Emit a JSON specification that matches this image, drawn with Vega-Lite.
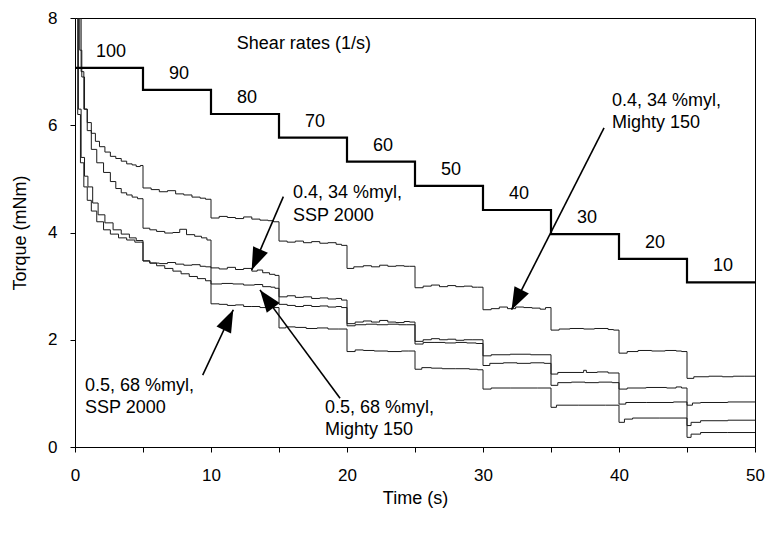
{
  "$schema": "https://vega.github.io/schema/vega-lite/v6.json",
  "width": 680,
  "height": 429,
  "autosize": "none",
  "padding": {"left": 75, "top": 18, "right": 13, "bottom": 89},
  "background": "white",
  "config": {
    "view": {"stroke": "black", "strokeWidth": 1},
    "font": "Liberation Sans",
    "axis": {"grid": false, "domainColor": "black", "tickColor": "black", "labelColor": "black", "titleColor": "black", "labelFont": "Liberation Sans", "titleFont": "Liberation Sans", "labelFontSize": 17, "titleFontSize": 18, "titleFontWeight": "normal", "tickSize": 5}
  },
  "datasets": {
    "curves": [
      {"s":"A","t":0,"v":9.5},{"s":"A","t":0.2,"v":8.1},{"s":"A","t":0.35,"v":7.4},{"s":"A","t":0.5,"v":6.9},{"s":"A","t":0.7,"v":6.3},{"s":"A","t":0.9,"v":6.05},{"s":"A","t":1.2,"v":5.85},{"s":"A","t":1.5,"v":5.7},{"s":"A","t":1.8,"v":5.6},{"s":"A","t":2.2,"v":5.5},{"s":"A","t":2.6,"v":5.42},{"s":"A","t":3.0,"v":5.38},{"s":"A","t":3.4,"v":5.33},{"s":"A","t":3.8,"v":5.28},{"s":"A","t":4.2,"v":5.26},{"s":"A","t":4.5,"v":5.23},{"s":"A","t":4.8,"v":5.25},
      {"s":"A","t":5,"v":4.83},{"s":"A","t":5.6,"v":4.8},{"s":"A","t":6.2,"v":4.76},{"s":"A","t":6.8,"v":4.78},{"s":"A","t":7.4,"v":4.72},{"s":"A","t":8.0,"v":4.7},{"s":"A","t":8.6,"v":4.66},{"s":"A","t":9.2,"v":4.64},{"s":"A","t":9.6,"v":4.62},
      {"s":"A","t":10,"v":4.27},{"s":"A","t":10.6,"v":4.3},{"s":"A","t":11.2,"v":4.28},{"s":"A","t":11.8,"v":4.26},{"s":"A","t":12.4,"v":4.29},{"s":"A","t":13.0,"v":4.25},{"s":"A","t":13.6,"v":4.23},{"s":"A","t":14.2,"v":4.22},{"s":"A","t":14.6,"v":4.2},
      {"s":"A","t":15,"v":3.84},{"s":"A","t":15.6,"v":3.82},{"s":"A","t":16.2,"v":3.84},{"s":"A","t":16.8,"v":3.81},{"s":"A","t":17.4,"v":3.83},{"s":"A","t":18.0,"v":3.8},{"s":"A","t":18.6,"v":3.81},{"s":"A","t":19.2,"v":3.78},{"s":"A","t":19.6,"v":3.76},
      {"s":"A","t":20,"v":3.33},{"s":"A","t":20.5,"v":3.36},{"s":"A","t":21.2,"v":3.38},{"s":"A","t":21.8,"v":3.36},{"s":"A","t":22.4,"v":3.39},{"s":"A","t":23.0,"v":3.37},{"s":"A","t":23.6,"v":3.38},{"s":"A","t":24.2,"v":3.37},{"s":"A","t":24.6,"v":3.37},
      {"s":"A","t":25,"v":2.97},{"s":"A","t":25.6,"v":3.0},{"s":"A","t":26.2,"v":3.02},{"s":"A","t":26.8,"v":2.99},{"s":"A","t":27.4,"v":3.01},{"s":"A","t":28.0,"v":2.99},{"s":"A","t":28.6,"v":3.0},{"s":"A","t":29.2,"v":2.98},{"s":"A","t":29.6,"v":2.98},
      {"s":"A","t":30,"v":2.56},{"s":"A","t":30.6,"v":2.58},{"s":"A","t":31.2,"v":2.61},{"s":"A","t":31.8,"v":2.58},{"s":"A","t":32.4,"v":2.61},{"s":"A","t":33.0,"v":2.6},{"s":"A","t":33.6,"v":2.59},{"s":"A","t":34.2,"v":2.57},{"s":"A","t":34.6,"v":2.6},
      {"s":"A","t":35,"v":2.18},{"s":"A","t":35.6,"v":2.2},{"s":"A","t":36.4,"v":2.21},{"s":"A","t":37.4,"v":2.2},{"s":"A","t":38.2,"v":2.21},{"s":"A","t":39.2,"v":2.19},{"s":"A","t":39.6,"v":2.18},
      {"s":"A","t":40,"v":1.75},{"s":"A","t":40.6,"v":1.78},{"s":"A","t":41.4,"v":1.8},{"s":"A","t":42.4,"v":1.79},{"s":"A","t":43.4,"v":1.8},{"s":"A","t":44.2,"v":1.79},{"s":"A","t":44.6,"v":1.78},
      {"s":"A","t":45,"v":1.28},{"s":"A","t":45.5,"v":1.31},{"s":"A","t":46.6,"v":1.32},{"s":"A","t":47.6,"v":1.31},{"s":"A","t":48.4,"v":1.32},{"s":"A","t":49.2,"v":1.32},{"s":"A","t":50,"v":1.32},

      {"s":"B","t":0,"v":9.5},{"s":"B","t":0.25,"v":8.0},{"s":"B","t":0.45,"v":7.0},{"s":"B","t":0.65,"v":6.3},{"s":"B","t":0.9,"v":5.9},{"s":"B","t":1.2,"v":5.55},{"s":"B","t":1.6,"v":5.3},{"s":"B","t":2.1,"v":5.12},{"s":"B","t":2.6,"v":4.95},{"s":"B","t":3.0,"v":4.82},{"s":"B","t":3.4,"v":4.74},{"s":"B","t":3.8,"v":4.7},{"s":"B","t":4.2,"v":4.66},{"s":"B","t":4.6,"v":4.63},
      {"s":"B","t":5,"v":4.08},{"s":"B","t":5.5,"v":4.05},{"s":"B","t":6.0,"v":4.02},{"s":"B","t":6.6,"v":3.99},{"s":"B","t":7.2,"v":4.0},{"s":"B","t":7.7,"v":4.06},{"s":"B","t":8.2,"v":3.96},{"s":"B","t":8.8,"v":3.93},{"s":"B","t":9.3,"v":3.9},{"s":"B","t":9.7,"v":3.86},
      {"s":"B","t":10,"v":3.34},{"s":"B","t":10.6,"v":3.32},{"s":"B","t":11.2,"v":3.35},{"s":"B","t":11.8,"v":3.31},{"s":"B","t":12.4,"v":3.33},{"s":"B","t":13.0,"v":3.28},{"s":"B","t":13.4,"v":3.3},{"s":"B","t":13.8,"v":3.25},{"s":"B","t":14.3,"v":3.22},{"s":"B","t":14.7,"v":3.2},
      {"s":"B","t":15,"v":2.8},{"s":"B","t":15.6,"v":2.82},{"s":"B","t":16.2,"v":2.79},{"s":"B","t":16.8,"v":2.8},{"s":"B","t":17.4,"v":2.77},{"s":"B","t":18.0,"v":2.78},{"s":"B","t":18.6,"v":2.76},{"s":"B","t":19.2,"v":2.77},{"s":"B","t":19.6,"v":2.74},
      {"s":"B","t":20,"v":2.3},{"s":"B","t":20.6,"v":2.33},{"s":"B","t":21.2,"v":2.35},{"s":"B","t":21.8,"v":2.33},{"s":"B","t":22.4,"v":2.36},{"s":"B","t":23.0,"v":2.33},{"s":"B","t":23.6,"v":2.32},{"s":"B","t":24.2,"v":2.34},{"s":"B","t":24.6,"v":2.33},
      {"s":"B","t":25,"v":1.97},{"s":"B","t":25.6,"v":2.0},{"s":"B","t":26.2,"v":2.02},{"s":"B","t":26.8,"v":2.0},{"s":"B","t":27.4,"v":2.01},{"s":"B","t":28.0,"v":1.99},{"s":"B","t":28.6,"v":2.0},{"s":"B","t":29.2,"v":2.0},
      {"s":"B","t":30,"v":1.7},{"s":"B","t":30.6,"v":1.72},{"s":"B","t":32.0,"v":1.73},{"s":"B","t":33.5,"v":1.72},
      {"s":"B","t":35,"v":1.36},{"s":"B","t":35.5,"v":1.39},{"s":"B","t":37.4,"v":1.43},{"s":"B","t":37.6,"v":1.39},{"s":"B","t":38.4,"v":1.4},{"s":"B","t":39.2,"v":1.38},
      {"s":"B","t":40,"v":1.08},{"s":"B","t":40.6,"v":1.1},{"s":"B","t":42.0,"v":1.11},{"s":"B","t":43.5,"v":1.1},{"s":"B","t":44.2,"v":1.12},{"s":"B","t":44.6,"v":1.1},
      {"s":"B","t":45,"v":0.78},{"s":"B","t":45.4,"v":0.82},{"s":"B","t":46.0,"v":0.83},{"s":"B","t":48.0,"v":0.84},{"s":"B","t":50,"v":0.84},

      {"s":"C","t":0,"v":9.5},{"s":"C","t":0.1,"v":8.2},{"s":"C","t":0.25,"v":6.3},{"s":"C","t":0.45,"v":5.4},{"s":"C","t":0.7,"v":5.05},{"s":"C","t":0.95,"v":4.85},{"s":"C","t":1.3,"v":4.55},{"s":"C","t":1.7,"v":4.33},{"s":"C","t":2.2,"v":4.18},{"s":"C","t":2.8,"v":4.05},{"s":"C","t":3.4,"v":3.97},{"s":"C","t":4.0,"v":3.9},{"s":"C","t":4.5,"v":3.85},
      {"s":"C","t":5,"v":3.47},{"s":"C","t":5.5,"v":3.43},{"s":"C","t":6.0,"v":3.38},{"s":"C","t":6.6,"v":3.33},{"s":"C","t":7.2,"v":3.28},{"s":"C","t":7.8,"v":3.23},{"s":"C","t":8.4,"v":3.18},{"s":"C","t":9.0,"v":3.14},{"s":"C","t":9.6,"v":3.1},
      {"s":"C","t":10,"v":3.04},{"s":"C","t":10.8,"v":3.05},{"s":"C","t":11.6,"v":3.04},{"s":"C","t":12.4,"v":3.02},{"s":"C","t":13.2,"v":3.03},{"s":"C","t":13.8,"v":2.99},{"s":"C","t":14.4,"v":2.98},{"s":"C","t":14.7,"v":2.96},
      {"s":"C","t":15,"v":2.66},{"s":"C","t":15.6,"v":2.64},{"s":"C","t":16.2,"v":2.62},{"s":"C","t":16.8,"v":2.64},{"s":"C","t":17.4,"v":2.62},{"s":"C","t":18.0,"v":2.63},{"s":"C","t":18.6,"v":2.61},{"s":"C","t":19.2,"v":2.62},{"s":"C","t":19.6,"v":2.6},
      {"s":"C","t":20,"v":2.26},{"s":"C","t":20.6,"v":2.28},{"s":"C","t":21.4,"v":2.29},{"s":"C","t":22.2,"v":2.28},{"s":"C","t":23.0,"v":2.29},{"s":"C","t":23.8,"v":2.28},{"s":"C","t":24.4,"v":2.28},
      {"s":"C","t":25,"v":1.92},{"s":"C","t":25.6,"v":1.95},{"s":"C","t":26.4,"v":1.95},{"s":"C","t":27.2,"v":1.94},{"s":"C","t":28.0,"v":1.95},{"s":"C","t":28.8,"v":1.94},{"s":"C","t":29.5,"v":1.93},
      {"s":"C","t":30,"v":1.52},{"s":"C","t":30.5,"v":1.56},{"s":"C","t":31.5,"v":1.57},{"s":"C","t":32.5,"v":1.56},{"s":"C","t":33.5,"v":1.57},{"s":"C","t":34.5,"v":1.56},
      {"s":"C","t":35,"v":1.15},{"s":"C","t":35.5,"v":1.2},{"s":"C","t":36.5,"v":1.21},{"s":"C","t":37.5,"v":1.2},{"s":"C","t":38.5,"v":1.21},{"s":"C","t":39.5,"v":1.2},
      {"s":"C","t":40,"v":0.8},{"s":"C","t":40.5,"v":0.83},{"s":"C","t":42.0,"v":0.83},{"s":"C","t":44.0,"v":0.84},
      {"s":"C","t":45,"v":0.4},{"s":"C","t":45.3,"v":0.46},{"s":"C","t":46.0,"v":0.49},{"s":"C","t":48.0,"v":0.5},{"s":"C","t":50,"v":0.5},

      {"s":"D","t":0,"v":9.5},{"s":"D","t":0.08,"v":8.2},{"s":"D","t":0.2,"v":6.2},{"s":"D","t":0.4,"v":5.3},{"s":"D","t":0.65,"v":4.85},{"s":"D","t":0.9,"v":4.6},{"s":"D","t":1.2,"v":4.4},{"s":"D","t":1.6,"v":4.2},{"s":"D","t":2.1,"v":4.05},{"s":"D","t":2.6,"v":3.97},{"s":"D","t":3.2,"v":3.9},{"s":"D","t":3.8,"v":3.86},{"s":"D","t":4.4,"v":3.82},{"s":"D","t":4.8,"v":3.82},
      {"s":"D","t":5,"v":3.47},{"s":"D","t":5.5,"v":3.43},{"s":"D","t":6.2,"v":3.42},{"s":"D","t":6.8,"v":3.44},{"s":"D","t":7.4,"v":3.41},{"s":"D","t":8.0,"v":3.39},{"s":"D","t":8.6,"v":3.4},{"s":"D","t":9.2,"v":3.37},{"s":"D","t":9.6,"v":3.36},
      {"s":"D","t":10,"v":2.67},{"s":"D","t":10.6,"v":2.66},{"s":"D","t":11.2,"v":2.64},{"s":"D","t":11.8,"v":2.65},{"s":"D","t":12.4,"v":2.62},{"s":"D","t":13.0,"v":2.62},{"s":"D","t":13.6,"v":2.6},{"s":"D","t":14.2,"v":2.61},{"s":"D","t":14.6,"v":2.6},
      {"s":"D","t":15,"v":2.22},{"s":"D","t":15.5,"v":2.24},{"s":"D","t":16.2,"v":2.23},{"s":"D","t":17.0,"v":2.21},{"s":"D","t":17.8,"v":2.22},{"s":"D","t":18.6,"v":2.2},{"s":"D","t":19.4,"v":2.2},
      {"s":"D","t":20,"v":1.78},{"s":"D","t":20.6,"v":1.81},{"s":"D","t":21.2,"v":1.8},{"s":"D","t":22.0,"v":1.79},{"s":"D","t":23.0,"v":1.78},{"s":"D","t":24.0,"v":1.79},{"s":"D","t":24.5,"v":1.79},
      {"s":"D","t":25,"v":1.45},{"s":"D","t":25.5,"v":1.48},{"s":"D","t":26.2,"v":1.47},{"s":"D","t":27.0,"v":1.46},{"s":"D","t":28.0,"v":1.46},{"s":"D","t":29.0,"v":1.45},{"s":"D","t":29.6,"v":1.44},
      {"s":"D","t":30,"v":1.08},{"s":"D","t":30.6,"v":1.1},{"s":"D","t":32.0,"v":1.1},{"s":"D","t":34.0,"v":1.1},
      {"s":"D","t":35,"v":0.74},{"s":"D","t":35.4,"v":0.78},{"s":"D","t":37.0,"v":0.78},{"s":"D","t":39.0,"v":0.78},
      {"s":"D","t":40,"v":0.46},{"s":"D","t":40.4,"v":0.52},{"s":"D","t":41.0,"v":0.54},{"s":"D","t":43.0,"v":0.54},
      {"s":"D","t":45,"v":0.18},{"s":"D","t":45.3,"v":0.24},{"s":"D","t":46.0,"v":0.27},{"s":"D","t":48.0,"v":0.27},{"s":"D","t":50,"v":0.27}
    ],
    "rates": [
      {"t":0,"v":7.07,"rate":"100"},{"t":5,"v":6.66,"rate":"90"},{"t":10,"v":6.21,"rate":"80"},{"t":15,"v":5.77,"rate":"70"},{"t":20,"v":5.32,"rate":"60"},{"t":25,"v":4.87,"rate":"50"},{"t":30,"v":4.42,"rate":"40"},{"t":35,"v":3.97,"rate":"30"},{"t":40,"v":3.51,"rate":"20"},{"t":45,"v":3.07,"rate":"10"},{"t":50,"v":3.07,"rate":""}
    ],
    "notes": [
      {"t":11.9,"v":7.52,"text":"Shear rates (1/s)"},
      {"t":16.03,"v":4.74,"text":"0.4, 34 %myl,"},{"t":16.03,"v":4.3,"text":"SSP 2000"},
      {"t":39.49,"v":6.46,"text":"0.4, 34 %myl,"},{"t":39.49,"v":6.04,"text":"Mighty 150"},
      {"t":0.74,"v":1.13,"text":"0.5, 68 %myl,"},{"t":0.74,"v":0.72,"text":"SSP 2000"},
      {"t":18.38,"v":0.73,"text":"0.5, 68 %myl,"},{"t":18.38,"v":0.32,"text":"Mighty 150"}
    ],
    "arrows": [
      {"id":"a1","t":15.32,"v":4.67,"t2":12.99,"v2":3.3},
      {"id":"a2","t":38.9,"v":5.95,"t2":32.1,"v2":2.56},
      {"id":"a3","t":9.39,"v":1.34,"t2":11.64,"v2":2.56},
      {"id":"a4","t":19.49,"v":0.91,"t2":13.6,"v2":2.93}
    ]
  },
  "encoding": {
    "x": {"field": "t", "type": "quantitative", "scale": {"domain": [0, 50], "nice": false}, "axis": {"title": "Time (s)", "values": [0,5,10,15,20,25,30,35,40,45,50], "labelExpr": "datum.value % 10 === 0 ? datum.label : ''", "labelPadding": 15, "titlePadding": 6, "labelFlush": false}},
    "y": {"field": "v", "type": "quantitative", "scale": {"domain": [0, 8], "nice": false}, "axis": {"title": "Torque (mNm)", "values": [0,2,4,6,8], "labelPadding": 13, "titlePadding": 18}}
  },
  "layer": [
    {"data": {"name": "curves"}, "mark": {"type": "line", "interpolate": "step-after", "color": "#1a1a1a", "strokeWidth": 1, "clip": true}, "encoding": {"detail": {"field": "s"}}},
    {"data": {"name": "rates"}, "mark": {"type": "line", "interpolate": "step-after", "color": "black", "strokeWidth": 2.2, "clip": true}},
    {"data": {"name": "rates"}, "mark": {"type": "text", "fontSize": 18, "align": "center", "baseline": "middle", "dx": 36, "dy": -16, "color": "black"}, "encoding": {"text": {"field": "rate"}}},
    {"data": {"name": "notes"}, "mark": {"type": "text", "fontSize": 18, "align": "left", "baseline": "middle", "color": "black"}, "encoding": {"text": {"field": "text"}}},
    {"data": {"name": "arrows"}, "mark": {"type": "rule", "color": "black", "strokeWidth": 1.6}, "encoding": {"x2": {"field": "t2"}, "y2": {"field": "v2"}}},
    {"data": {"name": "arrows"}, "transform": [{"filter": "datum.id === 'a1'"}], "mark": {"type": "point", "shape": "M0,0L-0.36,1L0.36,1Z", "size": 2000, "filled": true, "color": "black", "opacity": 1, "angle": 203.3}, "encoding": {"x": {"field": "t2", "type": "quantitative"}, "y": {"field": "v2", "type": "quantitative"}}},
    {"data": {"name": "arrows"}, "transform": [{"filter": "datum.id === 'a2'"}], "mark": {"type": "point", "shape": "M0,0L-0.36,1L0.36,1Z", "size": 2000, "filled": true, "color": "black", "opacity": 1, "angle": 206.9}, "encoding": {"x": {"field": "t2", "type": "quantitative"}, "y": {"field": "v2", "type": "quantitative"}}},
    {"data": {"name": "arrows"}, "transform": [{"filter": "datum.id === 'a3'"}], "mark": {"type": "point", "shape": "M0,0L-0.36,1L0.36,1Z", "size": 2000, "filled": true, "color": "black", "opacity": 1, "angle": 25.2}, "encoding": {"x": {"field": "t2", "type": "quantitative"}, "y": {"field": "v2", "type": "quantitative"}}},
    {"data": {"name": "arrows"}, "transform": [{"filter": "datum.id === 'a4'"}], "mark": {"type": "point", "shape": "M0,0L-0.36,1L0.36,1Z", "size": 2000, "filled": true, "color": "black", "opacity": 1, "angle": 323.5}, "encoding": {"x": {"field": "t2", "type": "quantitative"}, "y": {"field": "v2", "type": "quantitative"}}}
  ]
}
